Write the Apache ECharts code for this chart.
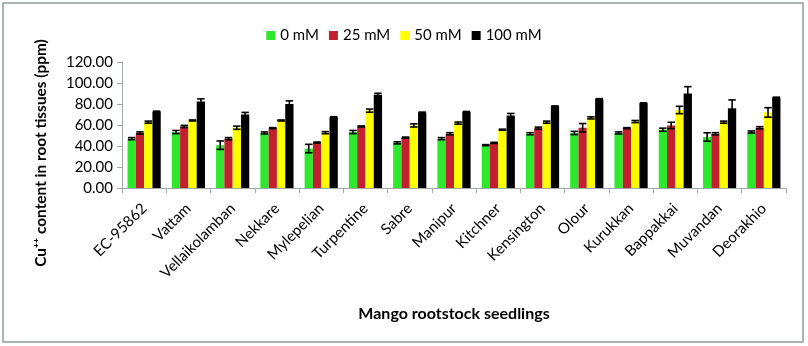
<!DOCTYPE html>
<html>
<head>
<meta charset="utf-8">
<script src="https://cdn.jsdelivr.net/npm/echarts@6/dist/echarts.min.js"></script>
<style>
  html, body { margin: 0; padding: 0; background: #fff; }
  #main { width: 808px; height: 346px; }
</style>
</head>
<body>
<div id="main"></div>
<script>
// rootstocks
var categories = ['EC-95862', 'Vattam', 'Vellaikolamban', 'Nekkare', 'Mylepelian', 'Turpentine', 'Sabre',
    'Manipur', 'Kitchner', 'Kensington', 'Olour', 'Kurukkan', 'Bappakkai', 'Muvandan', 'Deorakhio'];
var seriesNames = ['0 mM', '25 mM', '50 mM', '100 mM'];
var colors = ['#2ee82e', '#c21f2f', '#ffff00', '#000000'];

// Cu++ content (ppm)
var v0   = [47.0, 53.3, 40.8, 52.4, 37.6, 53.3, 43.0, 47.0, 40.8, 51.7, 52.4, 52.4, 55.5, 48.6, 53.3];
var v25  = [52.4, 58.6, 47.0, 57.0, 43.3, 58.6, 48.0, 51.7, 43.0, 57.0, 57.4, 57.0, 59.6, 51.7, 57.4];
var v50  = [62.7, 64.3, 57.4, 64.3, 52.7, 73.7, 59.6, 61.8, 55.5, 62.7, 66.8, 63.3, 74.3, 62.7, 72.0];
var v100 = [72.7, 82.4, 70.0, 80.0, 67.4, 88.7, 71.8, 72.4, 69.0, 77.7, 84.6, 80.6, 90.0, 75.9, 86.0];

// error (+/-)
var e0   = [1.0, 1.5, 4.0, 1.0, 4.0, 1.5, 1.0, 1.0, 0.5, 1.0, 1.5, 1.0, 1.5, 4.0, 1.0];
var e25  = [1.0, 1.0, 1.0, 0.5, 0.5, 0.5, 0.5, 1.0, 0.5, 1.0, 4.0, 0.5, 3.0, 1.0, 1.0];
var e50  = [1.0, 0.5, 1.5, 0.5, 1.0, 1.5, 1.5, 1.0, 0.5, 1.0, 1.0, 1.0, 3.5, 1.0, 4.5];
var e100 = [0.5, 2.5, 2.0, 3.0, 0.5, 1.5, 0.5, 0.5, 2.0, 0.5, 0.5, 0.5, 6.5, 8.0, 0.5];

var yTicks = [0, 20, 40, 60, 80, 100, 120];

var values = [v0, v25, v50, v100];
var errors = [e0, e25, e50, e100];
var catGap = 0.25;
var font = 'Lato, "Open Sans", sans-serif';

var series = [];
values.forEach(function (vals, i) {
    series.push({
        name: seriesNames[i],
        type: 'bar',
        data: vals,
        barGap: 0,
        barCategoryGap: (catGap * 100) + '%',
        itemStyle: { color: colors[i] }
    });
});
// error bars
values.forEach(function (vals, i) {
    var data = vals.map(function (v, k) { return [k, v, errors[i][k]]; });
    series.push({
        type: 'custom',
        z: 10,
        silent: true,
        data: data,
        renderItem: function (params, api) {
            var idx = api.value(0), v = api.value(1), e = api.value(2);
            var band = api.size([1, 0])[0];
            var bw = band * (1 - catGap) / 4;
            var cx = api.coord([idx, v])[0] + (i - 1.5) * bw;
            var yHi = api.coord([idx, v + e])[1];
            var yLo = api.coord([idx, v - e])[1];
            var cap = bw * 0.45;
            var st = { stroke: '#000', lineWidth: 1.6 };
            return {
                type: 'group',
                children: [
                    { type: 'line', shape: { x1: cx, y1: yHi, x2: cx, y2: yLo }, style: st },
                    { type: 'line', shape: { x1: cx - cap, y1: yHi, x2: cx + cap, y2: yHi }, style: st },
                    { type: 'line', shape: { x1: cx - cap, y1: yLo, x2: cx + cap, y2: yLo }, style: st }
                ]
            };
        }
    });
});

echarts.init(document.getElementById('main')).setOption({
    animation: false,
    backgroundColor: '#fff',
    textStyle: { fontFamily: font },
    graphic: [{
        type: 'rect',
        shape: { x: 3, y: 3, width: 800, height: 339 },
        style: { fill: 'none', stroke: '#8e9c9c', lineWidth: 1.5 },
        z: -1
    }, {
        // y axis title, sits a bit below the plot middle
        type: 'text',
        x: 41,
        y: 153,
        rotation: Math.PI / 2,
        style: {
            text: 'Cu\u207A\u207A content in root tissues (ppm)',
            font: 'bold 15.4px ' + font,
            fill: '#000',
            align: 'center',
            verticalAlign: 'middle'
        }
    }],
    legend: {
        data: seriesNames,
        top: 23,
        left: 'center',
        icon: 'rect',
        itemWidth: 9,
        itemHeight: 9,
        itemGap: 10,
        textStyle: { fontSize: 15, color: '#000', fontFamily: font }
    },
    grid: { left: 122, right: 22, top: 62, bottom: 158 },
    xAxis: {
        type: 'category',
        data: categories,
        name: 'Mango rootstock seedlings',
        nameLocation: 'middle',
        nameGap: 118,
        nameTextStyle: { fontSize: 16, fontWeight: 'bold', color: '#000', fontFamily: font },
        axisLine: { lineStyle: { color: '#a0a8a8', width: 1 } },
        axisTick: { show: true, length: 5, lineStyle: { color: '#a0a8a8' } },
        axisLabel: { rotate: 45, fontSize: 15, color: '#000', margin: 18, fontFamily: font }
    },
    yAxis: {
        type: 'value',
        min: yTicks[0],
        max: yTicks[yTicks.length - 1],
        interval: 20,
        splitLine: { show: false },
        axisLine: { show: true, lineStyle: { color: '#a0a8a8', width: 1 } },
        axisTick: { show: true, length: 5, lineStyle: { color: '#a0a8a8' } },
        axisLabel: {
            fontSize: 15, color: '#000', margin: 9, fontFamily: font,
            formatter: function (v) { return v.toFixed(2); }
        }
    },
    series: series
});
</script>
</body>
</html>
